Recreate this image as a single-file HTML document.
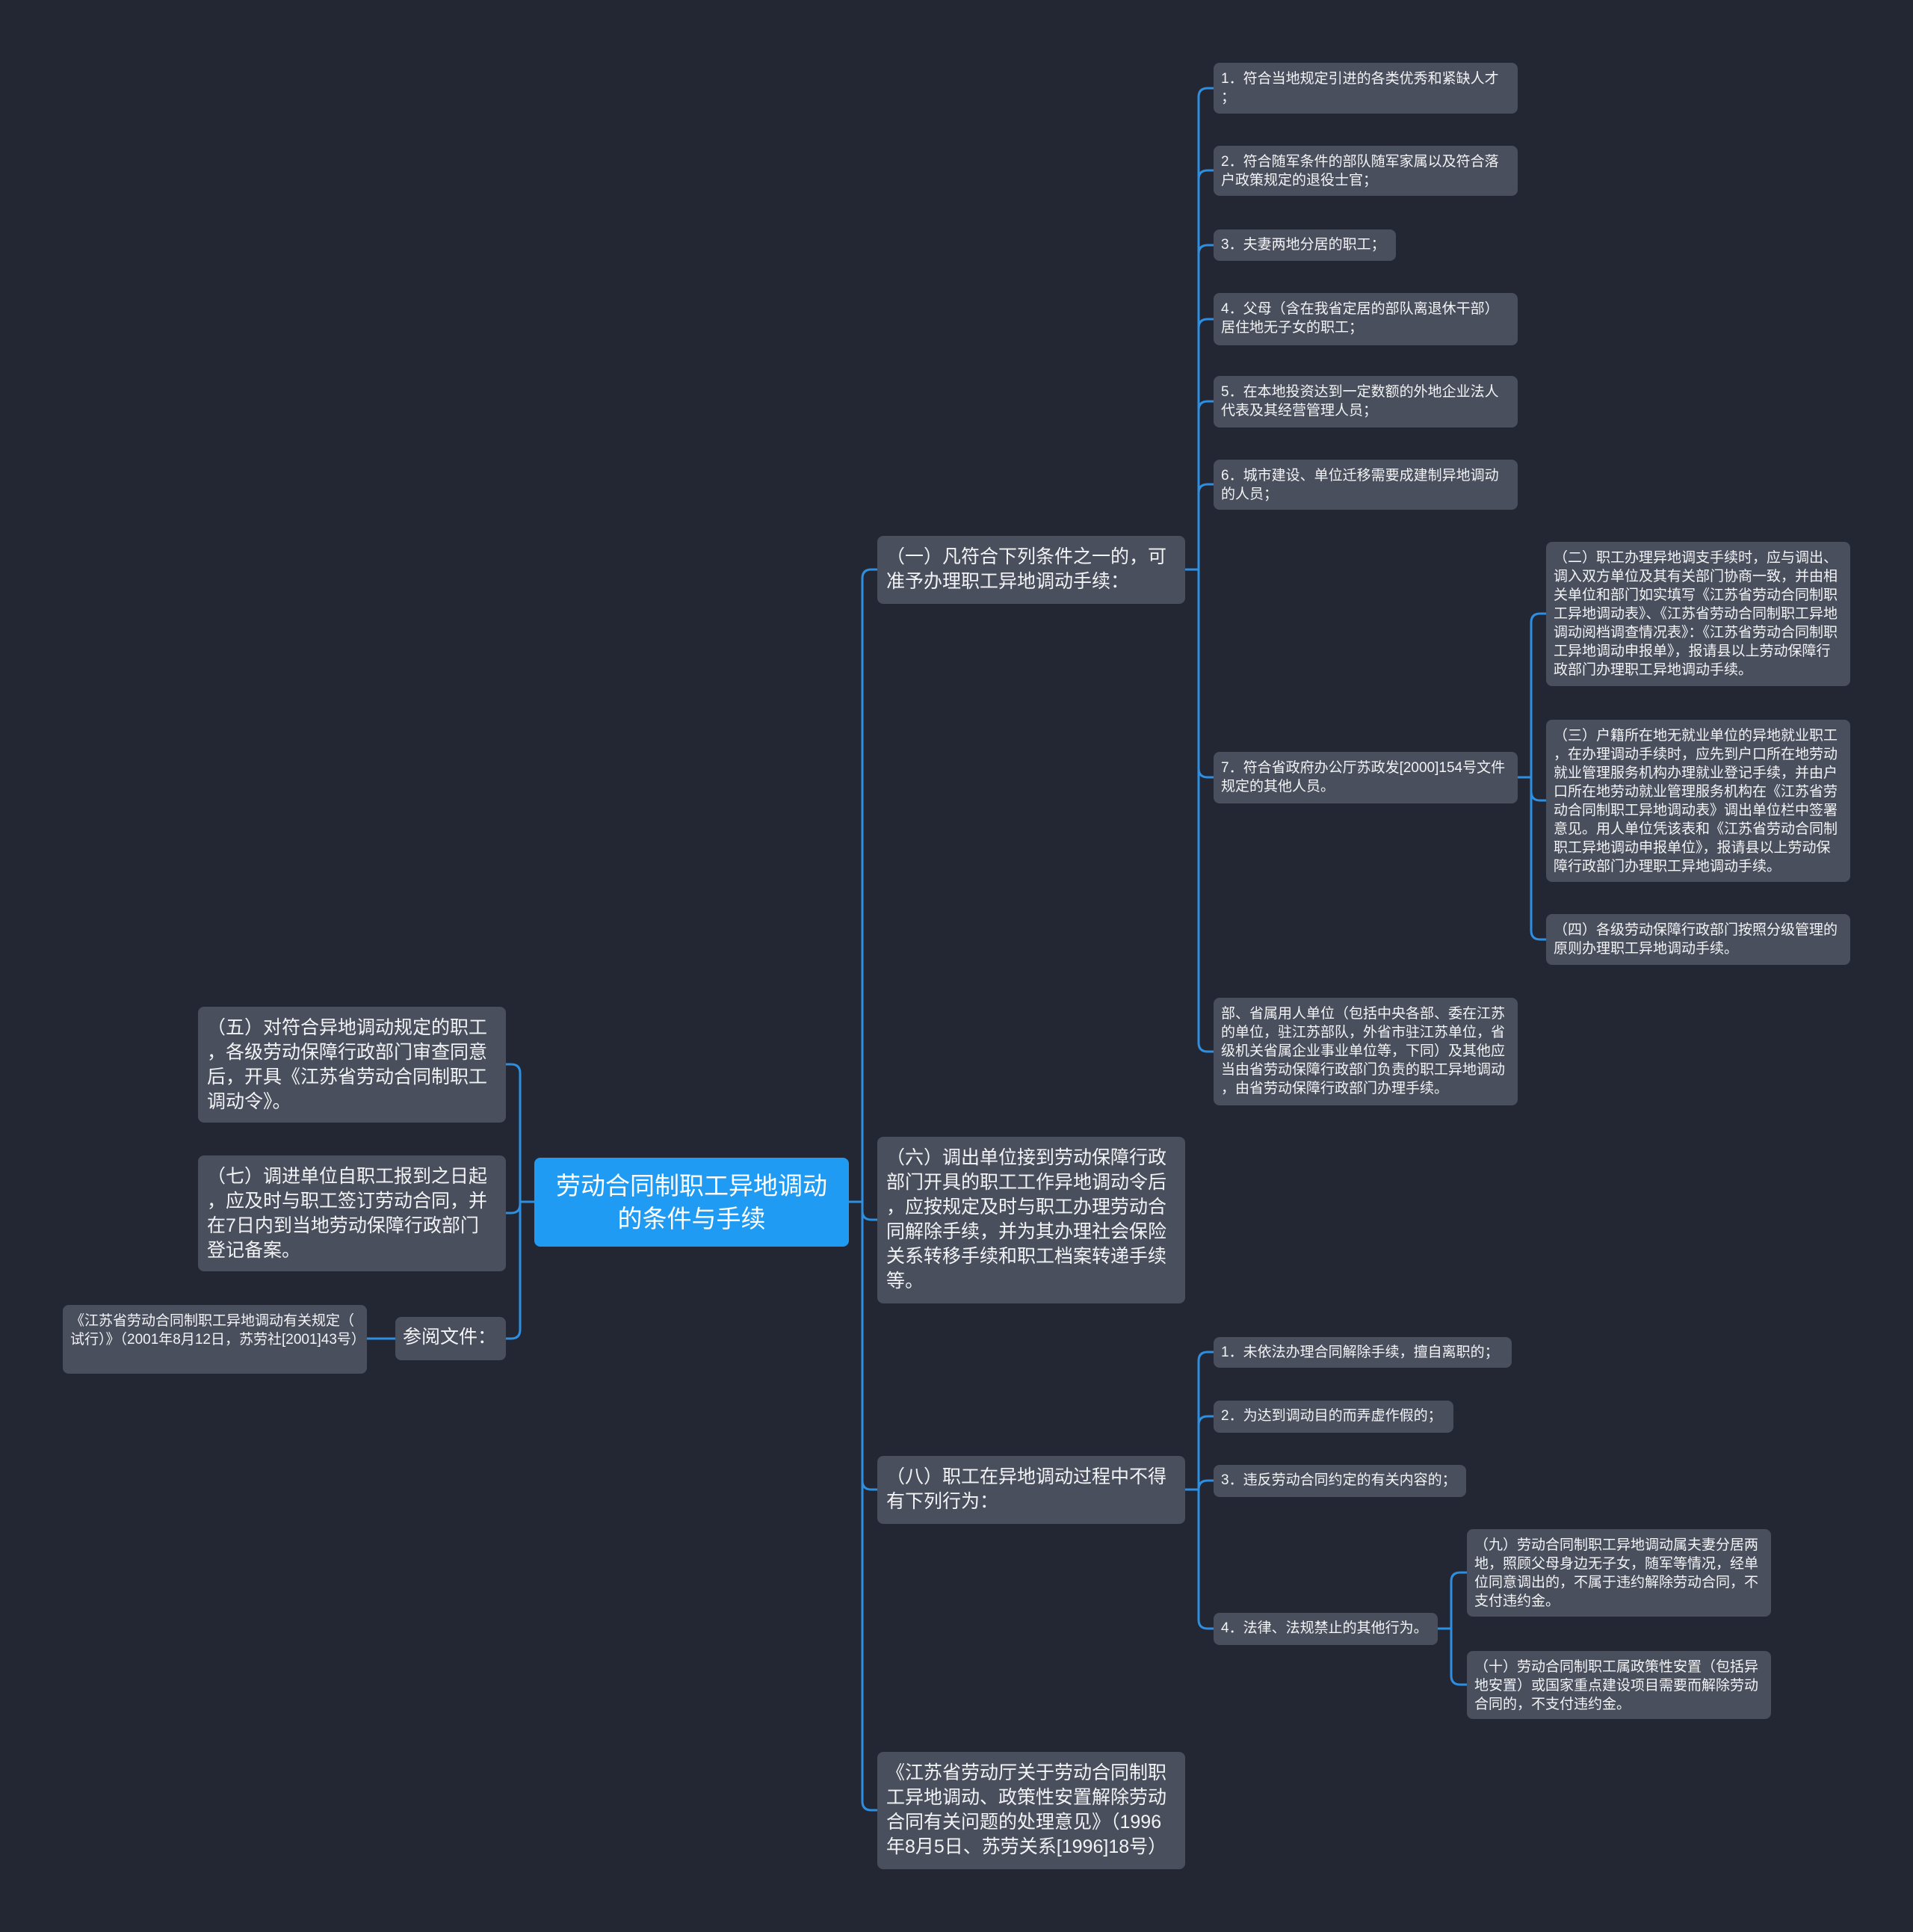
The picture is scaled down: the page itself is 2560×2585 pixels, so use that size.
<!DOCTYPE html>
<html><head><meta charset="utf-8"><style>
body{margin:0;width:2560px;height:2585px;background:#232733;position:relative;overflow:hidden;font-family:"Liberation Sans","Noto Sans CJK SC",sans-serif;}
.n{position:absolute;box-sizing:border-box;background:#4a4f5d;color:#f2f3f5;border-radius:8px;padding:9px 10px;font-size:19px;line-height:25px;word-break:break-all;line-break:anywhere;}
.m{font-size:25px;line-height:33px;padding:12px 12px;}
.r{background:#1f9bf3;color:#fff;font-size:33px;line-height:44px;text-align:center;display:flex;align-items:center;justify-content:center;padding:10px 20px;line-break:auto;}
svg{position:absolute;left:0;top:0}
</style></head><body>
<svg id="s" width="2560" height="2585"></svg>
<div class="n r" style="left:715px;top:1549px;width:421px;height:119px">劳动合同制职工异地调动的条件与手续</div>

<div class="n m" style="left:1174px;top:717px;width:412px;height:91px">（一）凡符合下列条件之一的，可准予办理职工异地调动手续：</div>
<div class="n m" style="left:1174px;top:1521px;width:412px;height:223px">（六）调出单位接到劳动保障行政部门开具的职工工作异地调动令后，应按规定及时与职工办理劳动合同解除手续，并为其办理社会保险关系转移手续和职工档案转递手续等。</div>
<div class="n m" style="left:1174px;top:1948px;width:412px;height:91px">（八）职工在异地调动过程中不得有下列行为：</div>
<div class="n m" style="left:1174px;top:2344px;width:412px;height:157px">《江苏省劳动厅关于劳动合同制职工异地调动、政策性安置解除劳动合同有关问题的处理意见》（1996年8月5日、苏劳关系[1996]18号）</div>

<div class="n m" style="left:265px;top:1347px;width:412px;height:155px">（五）对符合异地调动规定的职工，各级劳动保障行政部门审查同意后，开具《江苏省劳动合同制职工调动令》。</div>
<div class="n m" style="left:265px;top:1546px;width:412px;height:155px">（七）调进单位自职工报到之日起，应及时与职工签订劳动合同，并在7日内到当地劳动保障行政部门登记备案。</div>
<div class="n m" style="left:529px;top:1762px;width:148px;height:58px;padding:11px 10px;white-space:nowrap">参阅文件：</div>
<div class="n" style="left:84px;top:1746px;width:407px;height:92px">《江苏省劳动合同制职工异地调动有关规定（试行）》（2001年8月12日，苏劳社[2001]43号）</div>

<div class="n" style="left:1624px;top:84px;width:407px;height:68px">1．符合当地规定引进的各类优秀和紧缺人才；</div>
<div class="n" style="left:1624px;top:195px;width:407px;height:67px">2．符合随军条件的部队随军家属以及符合落户政策规定的退役士官；</div>
<div class="n" style="left:1624px;top:307px;width:244px;height:42px;padding:8px 10px">3．夫妻两地分居的职工；</div>
<div class="n" style="left:1624px;top:392px;width:407px;height:70px">4．父母（含在我省定居的部队离退休干部）居住地无子女的职工；</div>
<div class="n" style="left:1624px;top:503px;width:407px;height:69px">5．在本地投资达到一定数额的外地企业法人代表及其经营管理人员；</div>
<div class="n" style="left:1624px;top:615px;width:407px;height:67px">6．城市建设、单位迁移需要成建制异地调动的人员；</div>
<div class="n" style="left:1624px;top:1006px;width:407px;height:69px">7．符合省政府办公厅苏政发[2000]154号文件规定的其他人员。</div>
<div class="n" style="left:1624px;top:1335px;width:407px;height:144px">部、省属用人单位（包括中央各部、委在江苏的单位，驻江苏部队，外省市驻江苏单位，省级机关省属企业事业单位等，下同）及其他应当由省劳动保障行政部门负责的职工异地调动，由省劳动保障行政部门办理手续。</div>

<div class="n" style="left:2069px;top:725px;width:407px;height:193px">（二）职工办理异地调支手续时，应与调出、调入双方单位及其有关部门协商一致，并由相关单位和部门如实填写《江苏省劳动合同制职工异地调动表》、《江苏省劳动合同制职工异地调动阅档调查情况表》：《江苏省劳动合同制职工异地调动申报单》，报请县以上劳动保障行政部门办理职工异地调动手续。</div>
<div class="n" style="left:2069px;top:963px;width:407px;height:217px">（三）户籍所在地无就业单位的异地就业职工，在办理调动手续时，应先到户口所在地劳动就业管理服务机构办理就业登记手续，并由户口所在地劳动就业管理服务机构在《江苏省劳动合同制职工异地调动表》调出单位栏中签署意见。用人单位凭该表和《江苏省劳动合同制职工异地调动申报单位》，报请县以上劳动保障行政部门办理职工异地调动手续。</div>
<div class="n" style="left:2069px;top:1223px;width:407px;height:68px">（四）各级劳动保障行政部门按照分级管理的原则办理职工异地调动手续。</div>

<div class="n" style="left:1624px;top:1789px;width:399px;height:41px;padding:8px 10px">1．未依法办理合同解除手续，擅自离职的；</div>
<div class="n" style="left:1624px;top:1874px;width:321px;height:43px;padding:8px 10px">2．为达到调动目的而弄虚作假的；</div>
<div class="n" style="left:1624px;top:1960px;width:338px;height:43px;padding:8px 10px">3．违反劳动合同约定的有关内容的；</div>
<div class="n" style="left:1624px;top:2158px;width:300px;height:43px;padding:8px 10px">4．法律、法规禁止的其他行为。</div>
<div class="n" style="left:1963px;top:2046px;width:407px;height:117px">（九）劳动合同制职工异地调动属夫妻分居两地，照顾父母身边无子女，随军等情况，经单位同意调出的，不属于违约解除劳动合同，不支付违约金。</div>
<div class="n" style="left:1963px;top:2209px;width:407px;height:91px">（十）劳动合同制职工属政策性安置（包括异地安置）或国家重点建设项目需要而解除劳动合同的，不支付违约金。</div>

<script>
var d='';
function br(px,py,tx,cx,ys){ys.forEach(function(cy){var r=12;d+='M'+px+','+py+'H'+tx;
if(Math.abs(cy-py)<r){d+='V'+cy+'H'+cx;}else{var sg=cy>py?1:-1;var dir=cx>tx?1:-1;d+='V'+(cy-sg*r)+'Q'+tx+','+cy+' '+(tx+dir*r)+','+cy+'H'+cx;}});}
br(1136,1608,1154,1174,[762,1632,1993,2422]);
br(715,1608,696,677,[1424,1623,1791]);
br(529,1791,510,491,[1791]);
br(1586,762,1604,1624,[118,228,328,427,537,648,1040,1407]);
br(2031,1040,2049,2069,[821,1071,1257]);
br(1586,1993,1604,1624,[1809,1895,1981,2179]);
br(1924,2179,1942,1963,[2104,2254]);
document.getElementById('s').innerHTML='<path d="'+d+'" fill="none" stroke="#2e8fe0" stroke-width="3"/>';
</script>
</body></html>
